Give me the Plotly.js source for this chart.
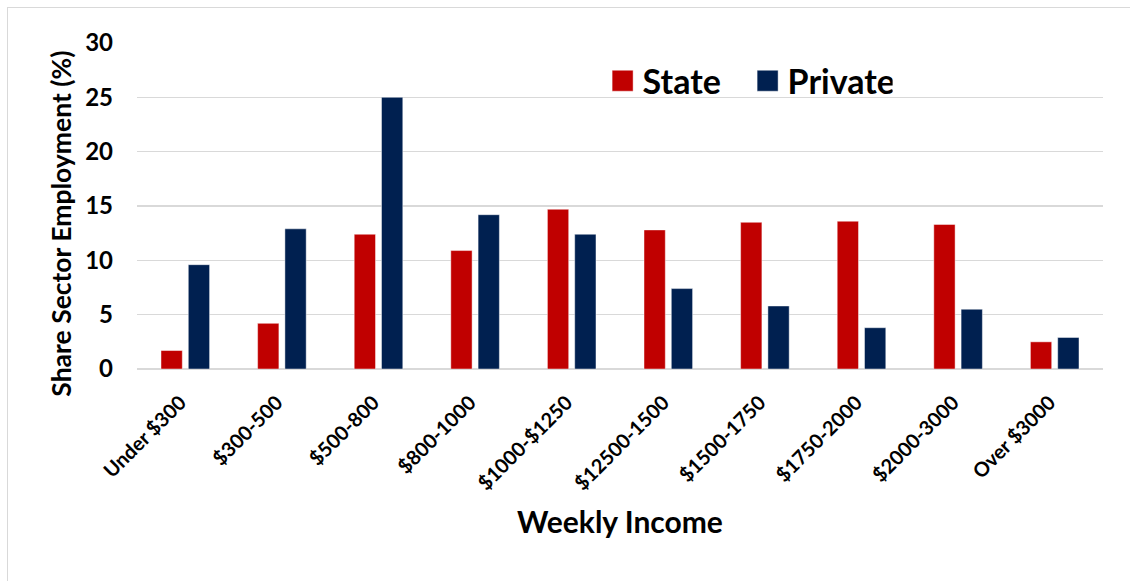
<!DOCTYPE html>
<html>
<head>
<meta charset="utf-8">
<script src="https://cdn.plot.ly/plotly-3.0.1.min.js"></script>
<style>
  html, body { margin: 0; padding: 0; background: #fff; }
  #wrap { position: relative; width: 1130px; height: 581px; overflow: hidden; }
  #frame { position: absolute; left: 7px; top: 7px; width: 1140px; height: 600px; border: 1.5px solid #D9D9D9; box-sizing: border-box; pointer-events: none; }
  #chart { position: absolute; left: 0; top: 0; width: 1130px; height: 581px; }
</style>
</head>
<body>
<div id="wrap">
  <div id="chart"></div>
  <div id="frame"></div>
</div>
<script>
const categories = ["Under $300", "$300-500", "$500-800", "$800-1000", "$1000-$1250",
                    "$12500-1500", "$1500-1750", "$1750-2000", "$2000-3000", "Over $3000"];
const stateValues = [1.7, 4.2, 12.4, 10.9, 14.7, 12.8, 13.5, 13.6, 13.3, 2.5];
const privateValues = [9.6, 12.9, 25.0, 14.2, 12.4, 7.4, 5.8, 3.8, 5.5, 2.9];
const yTicks = [0, 5, 10, 15, 20, 25, 30];
const xTitle = "Weekly Income";
const yTitle = "Share Sector Employment (%)";

const FONT = "Lato, 'Open Sans', sans-serif";

const traces = [
  {
    type: "bar", name: "State", x: categories, y: stateValues,
    marker: { color: "#C00000", line: { color: "rgba(255,255,255,0.45)", width: 1 } },
    hoverinfo: "skip"
  },
  {
    type: "bar", name: "Private", x: categories, y: privateValues,
    marker: { color: "#002050", line: { color: "rgba(255,255,255,0.45)", width: 1 } },
    hoverinfo: "skip"
  }
];

const layout = {
  width: 1130, height: 581,
  margin: { l: 137, r: 27, t: 43, b: 212 },
  paper_bgcolor: "rgba(0,0,0,0)",
  plot_bgcolor: "#fff",
  font: { family: FONT, color: "#000", weight: 700 },
  barmode: "group",
  bargap: 0.435,
  bargroupgap: 0.22,
  showlegend: true,
  legend: {
    orientation: "h",
    x: 0.482, y: 0.972, xanchor: "left", yanchor: "top",
    entrywidth: 100,
    entrywidthmode: "pixels",
    font: { family: FONT, size: 34, color: "#000", weight: 700 },
    bgcolor: "rgba(0,0,0,0)",
    itemclick: false
  },
  xaxis: {
    type: "category",
    tickangle: -45,
    tickfont: { family: FONT, size: 20, color: "#000", weight: 700 },
    ticklabelshift: -5,
    ticklabelstandoff: 17,
    showgrid: false,
    showline: false,
    ticks: "",
    zeroline: false,
    title: { text: xTitle, font: { family: FONT, size: 30, color: "#000", weight: 700 }, standoff: 18 }
  },
  yaxis: {
    range: [0, 30],
    tickvals: yTicks,
    ticktext: yTicks.map(String),
    tickfont: { family: FONT, size: 24, color: "#000", weight: 700 },
    ticklabelstandoff: 23,
    showgrid: true,
    gridcolor: "#D9D9D9",
    gridwidth: 1.5,
    zeroline: true,
    zerolinecolor: "#D9D9D9",
    zerolinewidth: 1.5,
    showline: false,
    ticks: ""
  },
  annotations: [
    {
      text: yTitle, textangle: -90, showarrow: false,
      xref: "paper", yref: "paper", x: -0.0787, y: 0.4457,
      xanchor: "center", yanchor: "middle",
      font: { family: FONT, size: 26.5, color: "#000", weight: 700 }
    }
  ]
};

Plotly.newPlot("chart", traces, layout, { staticPlot: true, displayModeBar: false }).then(function () {
  // enlarge the legend swatches to match the reference's square keys
  document.querySelectorAll(".legend .legendpoints path").forEach(function (p) {
    p.setAttribute("d", "M10.5,10.5H-10.5V-10.5H10.5Z");
  });
});
</script>
</body>
</html>
